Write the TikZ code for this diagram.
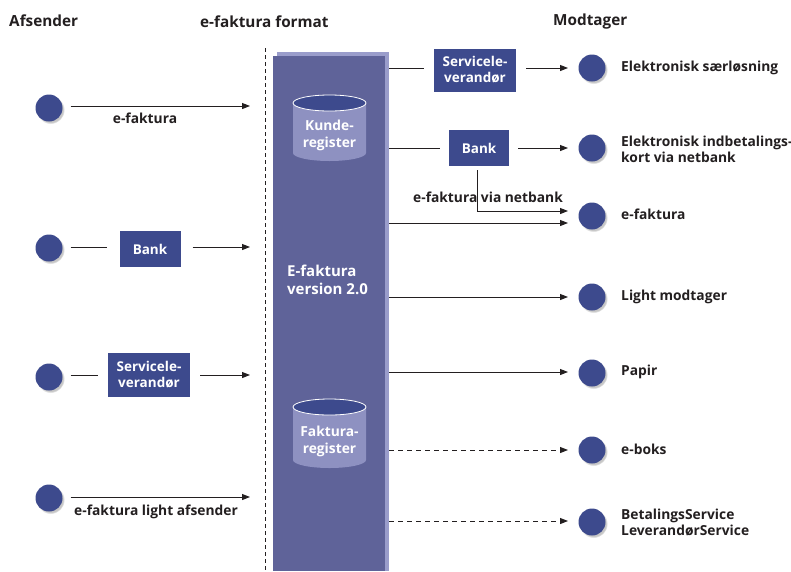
\documentclass[tikz,border=0pt]{standalone}
\usepackage{fontspec}
\setmainfont{Open Sans}
\usetikzlibrary{arrows.meta,calc,shadows}
\definecolor{navy}{HTML}{3D4A8D}
\definecolor{coreD}{HTML}{5F6399}
\definecolor{coreL}{HTML}{9A9DCB}
\definecolor{cylL}{HTML}{8E91C1}
\definecolor{ink}{HTML}{231F20}
\begin{document}
\begin{tikzpicture}[x=1pt,y=-1pt,
  dot/.style={circle,fill=navy,minimum size=27pt,inner sep=0pt,
    circular drop shadow={shadow scale=1.05,shadow xshift=1.5pt,shadow yshift=-1.8pt,opacity=.45}},
  box/.style={fill=navy,text=white,font=\bfseries\fontsize{13.5}{16}\selectfont,align=center,inner sep=0pt},
  lbl/.style={font=\bfseries\fontsize{13.8}{16}\selectfont,text=ink,align=left,anchor=west,inner sep=0pt},
  clbl/.style={font=\bfseries\fontsize{13.8}{16}\selectfont,text=ink,inner sep=0pt},
  hdr/.style={font=\bfseries\fontsize{15.3}{18}\selectfont,text=ink,anchor=west,inner sep=0pt},
  wtxt/.style={font=\bfseries\fontsize{13.8}{17}\selectfont,text=white,align=center,inner sep=0pt},
  conn/.style={draw=ink,line width=1pt},
  arr/.style={conn,-{Triangle[length=8pt,width=6pt]}},
  darr/.style={arr,dash pattern=on 5pt off 4pt},
]
\useasboundingbox (0,0) rectangle (791,571);
\fill[white] (0,0) rectangle (791,571);

% headers
\node[hdr] (h1) at (9,21) {Afsender};
\node[hdr] (h2) at (200,22) {e-faktura format};
\node[hdr] (h3) at (553,22) {Modtager};

% dashed separator
\coordinate (sepT) at (265,48);
\coordinate (sepB) at (265,571);
\draw[ink,line width=0.8pt,dash pattern=on 4pt off 3pt] (sepT) -- (sepB);

% core
\node[fill=coreL,minimum width=112pt,minimum height=519pt,anchor=north west,inner sep=0pt] (coreL) at (277,52) {};
\node[fill=coreD,minimum width=112pt,minimum height=515pt,anchor=north west,inner sep=0pt] (core) at (273,56) {};
\node[wtxt,align=left,anchor=west,font=\bfseries\fontsize{15}{17.5}\selectfont] (ver) at (287,280) {E-faktura\\version 2.0};

% cylinders
\fill[cylL] (293,103) -- (293,153) arc[start angle=180,end angle=360,x radius=36.5,y radius=-8] -- (366,103) -- cycle;
\draw[white,fill=navy,line width=0.8pt] (329.5,103) ellipse[x radius=36.5,y radius=8];
\node[wtxt] (kunde) at (329.5,135) {Kunde-\\register};

\fill[cylL] (293,407) -- (293,460) arc[start angle=180,end angle=360,x radius=36.5,y radius=-8] -- (366,407) -- cycle;
\draw[white,fill=navy,line width=0.8pt] (329.5,407) ellipse[x radius=36.5,y radius=8];
\node[wtxt] (faktura) at (329.5,441) {Faktura-\\register};

% senders
\node[dot] (s1) at (49,108) {};
\node[dot] (s2) at (49,248) {};
\node[dot] (s3) at (49,377) {};
\node[dot] (s4) at (49,498) {};
\coordinate (e1) at (250,106);
\coordinate (e2) at (250,247);
\coordinate (e3) at (250,375);
\coordinate (e4) at (250,497);
\node[box,minimum width=61pt,minimum height=36pt] (bankL) at (150,249) {Bank};
\node[box,minimum width=82pt,minimum height=44pt] (svL) at (149,375) {Servicele-\\verandør};

\draw[arr] (s1.east |- e1) ++(8,0) -- (e1);
\node[clbl] (l1) at (145,118) {e-faktura};
\draw[conn] ([xshift=8pt]s2.east |- e2) -- ([xshift=-12pt]bankL.west |- e2);
\draw[arr] ([xshift=12pt]bankL.east |- e2) -- (e2);
\draw[conn] ([xshift=8pt]s3.east |- e3) -- ([xshift=-10pt]svL.west |- e3);
\draw[arr] ([xshift=10pt]svL.east |- e3) -- (e3);
\draw[arr] (s4.east |- e4) ++(8,0) -- (e4);
\node[clbl] (l4) at (156,512) {e-faktura light afsender};

% receivers
\node[dot] (r1) at (592,68) {};
\node[dot] (r2) at (592,148) {};
\node[dot] (r3) at (592,216) {};
\node[dot] (r4) at (592,297) {};
\node[dot] (r5) at (592,373) {};
\node[dot] (r6) at (592,450) {};
\node[dot] (r7) at (592,522) {};
\node[lbl] (t1) at (621,68) {Elektronisk særløsning};
\node[lbl] (t2) at (621,149) {Elektronisk indbetalings-\\kort via netbank};
\node[lbl] (t3) at (621,214) {e-faktura};
\node[lbl] (t4) at (621,297) {Light modtager};
\node[lbl] (t5) at (621,372) {Papir};
\node[lbl] (t6) at (621,449) {e-boks};
\node[lbl] (t7) at (621,523) {BetalingsService\\LeverandørService};

\node[box,minimum width=82pt,minimum height=43pt] (svR) at (475,70) {Servicele-\\verandør};
\node[box,minimum width=60pt,minimum height=36pt] (bankR) at (479,148) {Bank};

\coordinate (a1) at (568,68);
\coordinate (a2) at (568,148);
\coordinate (a3a) at (568,211);
\coordinate (a3b) at (568,223);
\coordinate (a4) at (568,297);
\coordinate (a5) at (568,372);
\coordinate (a6) at (568,450);
\coordinate (a7) at (568,521);

\draw[conn] (coreL.east |- a1) -- ([xshift=-10pt]svR.west |- a1);
\draw[arr] ([xshift=10pt]svR.east |- a1) -- (a1);
\draw[conn] (coreL.east |- a2) -- ([xshift=-9pt]bankR.west |- a2);
\draw[arr] ([xshift=9pt]bankR.east |- a2) -- (a2);
\draw[arr] ([xshift=-2pt,yshift=-4pt]bankR.south) |- (a3a);
\node[clbl] (l3) at (488,197) {e-faktura via netbank};
\draw[arr] (coreL.east |- a3b) -- (a3b);
\draw[arr] (coreL.east |- a4) -- (a4);
\draw[arr] (coreL.east |- a5) -- (a5);
\draw[darr] (coreL.east |- a6) -- (a6);
\draw[darr] (coreL.east |- a7) -- (a7);
\end{tikzpicture}
\end{document}
